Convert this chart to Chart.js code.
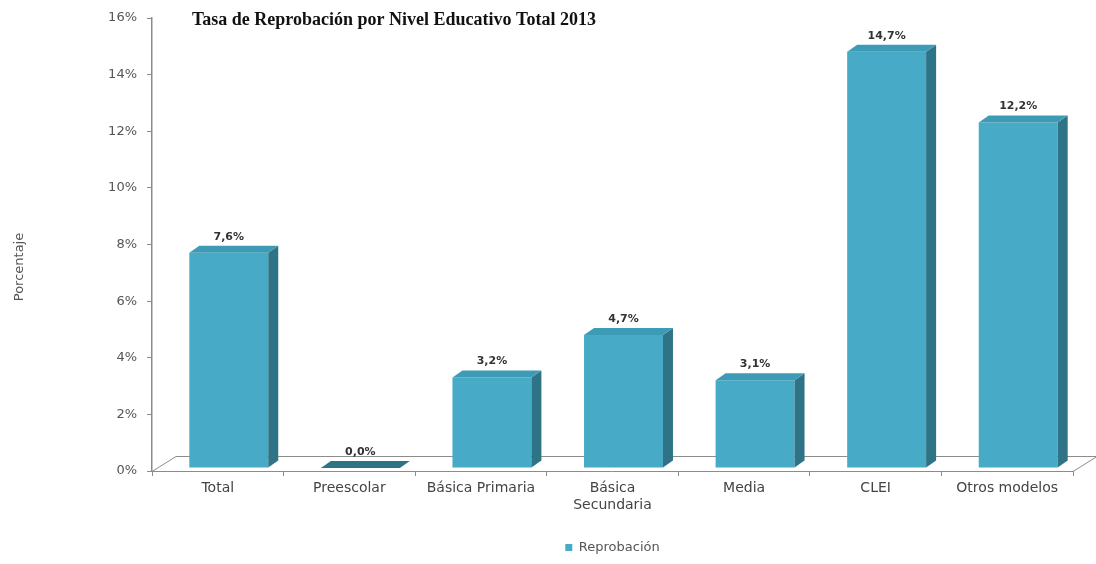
<!DOCTYPE html>
<html>
<head>
<meta charset="utf-8">
<script src="https://cdn.jsdelivr.net/npm/chart.js@4.4.0/dist/chart.umd.min.js"></script>
<style>
  html, body { margin: 0; padding: 0; background: #fff; }
  #wrap { width: 1096px; height: 564px; }
</style>
</head>
<body>
<div id="wrap"><canvas id="barChart" width="1096" height="564"></canvas></div>
<script>
// datos
var categorias = ['Total', 'Preescolar', 'Básica Primaria', ['Básica', 'Secundaria'], 'Media', 'CLEI', 'Otros modelos'];
var reprobacion = [7.6, 0.0, 3.2, 4.7, 3.1, 14.7, 12.2];
var ticksY = [0, 2, 4, 6, 8, 10, 12, 14, 16];

var titulo = 'Tasa de Reprobación por Nivel Educativo Total 2013';
var tituloEje = 'Porcentaje';
var nombreSerie = 'Reprobación';

var colorFrente = '#47aac6';
var colorLado = '#2e7386';
var colorArriba = '#3d9bb6';
var fuente = '"DejaVu Sans", Verdana, sans-serif';

// profundidad del efecto 3D
var prof = { dx: 10, dy: -7 };
var piso = { dx: 24, dy: -15 };
var desplazo = { x: 11, y: -3 };

var plugin3d = {
    id: 'barras3d',
    beforeDatasetsDraw: function (chart) {
        var ctx = chart.ctx;
        var a = chart.chartArea;
        // piso
        ctx.save();
        ctx.strokeStyle = '#8c8c8c';
        ctx.lineWidth = 1;
        ctx.beginPath();
        ctx.moveTo(a.right, a.bottom + 0.5);
        ctx.lineTo(a.left, a.bottom + 0.5);
        ctx.lineTo(a.left + piso.dx, a.bottom + piso.dy + 0.5);
        ctx.lineTo(a.right + piso.dx, a.bottom + piso.dy + 0.5);
        ctx.lineTo(a.right, a.bottom + 0.5);
        ctx.stroke();
        ctx.restore();

        ctx.save();
        ctx.translate(desplazo.x, desplazo.y);
    },
    afterDatasetsDraw: function (chart) {
        var ctx = chart.ctx;
        var meta = chart.getDatasetMeta(0);
        meta.data.forEach(function (bar, i) {
            var w = bar.width;
            var l = bar.x - w / 2, r = bar.x + w / 2;
            var top = bar.y, base = bar.base;
            // lado
            ctx.fillStyle = colorLado;
            ctx.beginPath();
            ctx.moveTo(r, top);
            ctx.lineTo(r + prof.dx, top + prof.dy);
            ctx.lineTo(r + prof.dx, base + prof.dy);
            ctx.lineTo(r, base);
            ctx.closePath();
            ctx.fill();
            // arriba
            ctx.fillStyle = reprobacion[i] === 0 ? colorLado : colorArriba;
            ctx.beginPath();
            ctx.moveTo(l, top);
            ctx.lineTo(l + prof.dx, top + prof.dy);
            ctx.lineTo(r + prof.dx, top + prof.dy);
            ctx.lineTo(r, top);
            ctx.closePath();
            ctx.fill();
            // etiqueta
            ctx.fillStyle = '#333';
            ctx.font = 'bold 11px ' + fuente;
            ctx.textAlign = 'center';
            ctx.textBaseline = 'middle';
            ctx.fillText(reprobacion[i].toFixed(1).replace('.', ',') + '%', bar.x, top - 16);
        });
        ctx.restore();
    },
    afterDraw: function (chart) {
        var ctx = chart.ctx;
        ctx.save();
        ctx.fillStyle = '#111';
        ctx.font = 'bold 18px "Liberation Serif", "Times New Roman", serif';
        ctx.textAlign = 'left';
        ctx.textBaseline = 'middle';
        ctx.fillText(titulo, 192, 20);

        ctx.fillStyle = '#555';
        ctx.font = '13px ' + fuente;
        ctx.translate(20, 267);
        ctx.rotate(-Math.PI / 2);
        ctx.textAlign = 'center';
        ctx.fillText(tituloEje, 0, 0);
        ctx.restore();
    }
};

var ctx = document.getElementById('barChart').getContext('2d');
var barChart = new Chart(ctx, {
    type: 'bar',
    data: {
        labels: categorias,
        datasets: [{
            label: nombreSerie,
            data: reprobacion,
            backgroundColor: colorFrente,
            borderWidth: 0,
            barPercentage: 0.6,
            categoryPercentage: 1
        }]
    },
    options: {
        responsive: false,
        animation: false,
        layout: { padding: { top: 18, right: 23, bottom: 0, left: 0 } },
        plugins: {
            legend: {
                position: 'bottom',
                fullSize: false,
                labels: {
                    boxWidth: 7,
                    boxHeight: 7,
                    padding: 10,
                    color: '#555',
                    font: { family: fuente, size: 13 }
                }
            },
            title: { display: false },
            tooltip: { enabled: false }
        },
        scales: {
            x: {
                afterFit: function (s) { s.height = 60; },
                grid: { drawOnChartArea: false, tickLength: 5, color: '#8c8c8c', offset: true },
                border: { display: false },
                ticks: {
                    color: '#444',
                    padding: 4,
                    maxRotation: 0,
                    font: { family: fuente, size: 14, lineHeight: 1.2 }
                }
            },
            y: {
                min: 0,
                max: 16,
                afterFit: function (s) { s.width = 152; },
                afterBuildTicks: function (s) {
                    s.ticks = ticksY.map(function (v) { return { value: v }; });
                },
                grid: { drawOnChartArea: false, tickLength: 5, color: '#8c8c8c' },
                border: { color: '#8c8c8c', width: 1.5 },
                ticks: {
                    color: '#555',
                    padding: 10,
                    font: { family: fuente, size: 13 },
                    callback: function (value) { return value + '%'; }
                }
            }
        }
    },
    plugins: [plugin3d]
});
</script>
</body>
</html>
